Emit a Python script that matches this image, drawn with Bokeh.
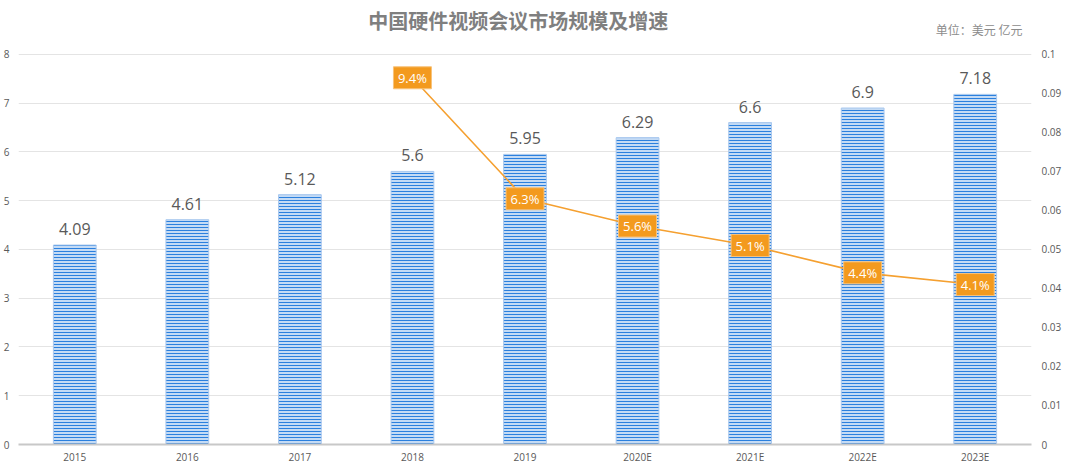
from bokeh.plotting import figure
from bokeh.models import (ColumnDataSource, FactorRange, Range1d, LinearAxis,
                          FixedTicker, CustomJSTickFormatter)
from bokeh.core.properties import value
from bokeh.embed import file_html
from bokeh.resources import INLINE

years = ["2015", "2016", "2017", "2018", "2019", "2020E", "2021E", "2022E", "2023E"]
market = [4.09, 4.61, 5.12, 5.6, 5.95, 6.29, 6.6, 6.9, 7.18]
growth_years = ["2018", "2019", "2020E", "2021E", "2022E", "2023E"]
growth = [0.094, 0.063, 0.056, 0.051, 0.044, 0.041]
growth_labels = ["9.4%", "6.3%", "5.6%", "5.1%", "4.4%", "4.1%"]
left_ticks = [0, 1, 2, 3, 4, 5, 6, 7, 8]
right_ticks = [0, 0.01, 0.02, 0.03, 0.04, 0.05, 0.06, 0.07, 0.08, 0.09, 0.1]
title_text = "中国硬件视频会议市场规模及增速"
unit_text = "单位：美元 亿元"

TXT = "#595959"
FONT = "Open Sans"
CJK = "Noto Sans CJK SC"

# the frame reaches the top of the figure so the header texts sit above the 8 gridline
YTOP = 9.105
p = figure(width=1064, height=466, x_range=FactorRange(factors=years),
           y_range=Range1d(0, YTOP), output_backend="svg", toolbar_location=None,
           min_border_left=0, min_border_right=12, min_border_top=0,
           min_border_bottom=0)
p.extra_y_ranges = {"pct": Range1d(0, 0.1 * YTOP / 8)}
p.outline_line_color = None
p.background_fill_color = "white"

# axes
p.yaxis.ticker = FixedTicker(ticks=left_ticks)
p.yaxis.axis_line_color = None
p.yaxis.major_tick_line_color = None
p.yaxis.major_tick_out = 0
p.yaxis.minor_tick_line_color = None
p.yaxis.major_label_text_font_size = "10px"
p.yaxis.major_label_text_color = TXT
p.yaxis.major_label_text_font = FONT
p.yaxis.major_label_standoff = 9

p.xaxis.axis_line_color = "#c8c8c8"
p.xaxis.axis_line_width = 2
p.xaxis.major_tick_line_color = None
p.xaxis.major_tick_out = 0
p.xaxis.minor_tick_line_color = None
p.xaxis.major_label_text_font_size = "10px"
p.xaxis.major_label_text_color = TXT
p.xaxis.major_label_text_font = FONT
p.xaxis.major_label_standoff = 5

ry = LinearAxis(y_range_name="pct", ticker=FixedTicker(ticks=right_ticks),
                formatter=CustomJSTickFormatter(code="return tick.toFixed(2).replace(/\\.?0+$/, '');"))
ry.axis_line_color = None
ry.major_tick_line_color = None
ry.major_tick_out = 0
ry.minor_tick_line_color = None
ry.major_label_text_font_size = "10px"
ry.major_label_text_color = TXT
ry.major_label_text_font = FONT
ry.major_label_standoff = 10
p.add_layout(ry, "right")

p.xgrid.grid_line_color = None
p.ygrid.grid_line_color = "#e4e4e4"
p.ygrid.grid_line_width = 1

bars = ColumnDataSource(dict(x=years, y=market, lab=[str(v) for v in market]))
p.vbar(x="x", top="y", width=0.38, source=bars, fill_color="#c4dbf5",
       line_color="#a9c8ee", line_width=1, hatch_pattern="horizontal_line",
       hatch_color="#2b80de", hatch_scale=3, hatch_weight=1)
p.text(x="x", y="y", text="lab", source=bars, text_align="center",
       text_baseline="bottom", y_offset=-10, text_font=value(FONT),
       text_font_size="16px", text_color=TXT)

gs = ColumnDataSource(dict(x=growth_years, y=growth, lab=growth_labels))
p.line(x="x", y="y", source=gs, y_range_name="pct", line_color="#f5a030",
       line_width=1.6)
p.rect(x="x", y="y", source=gs, y_range_name="pct", width=38, height=22,
       width_units="screen", height_units="screen", fill_color="#f39a1e",
       line_color="#f8c27a", line_width=1)
p.text(x="x", y="y", text="lab", source=gs, y_range_name="pct",
       text_align="center", text_baseline="middle", text_font=value(FONT),
       text_font_size="13px", text_color="white")

# header texts (placed in the top strip of the frame)
p.text(x=[4.44], y=[YTOP], text=[title_text], text_align="center",
       text_baseline="middle", y_offset=20, text_font=value(CJK),
       text_font_size="20px", text_font_style="bold", text_color="#7f7f7f")
p.text(x=[8.92], y=[YTOP], text=[unit_text], text_align="right",
       text_baseline="middle", y_offset=29, text_font=value(CJK),
       text_font_size="12px", text_color="#8c8c8c")

open("out.html", "w").write(file_html(p, INLINE))
